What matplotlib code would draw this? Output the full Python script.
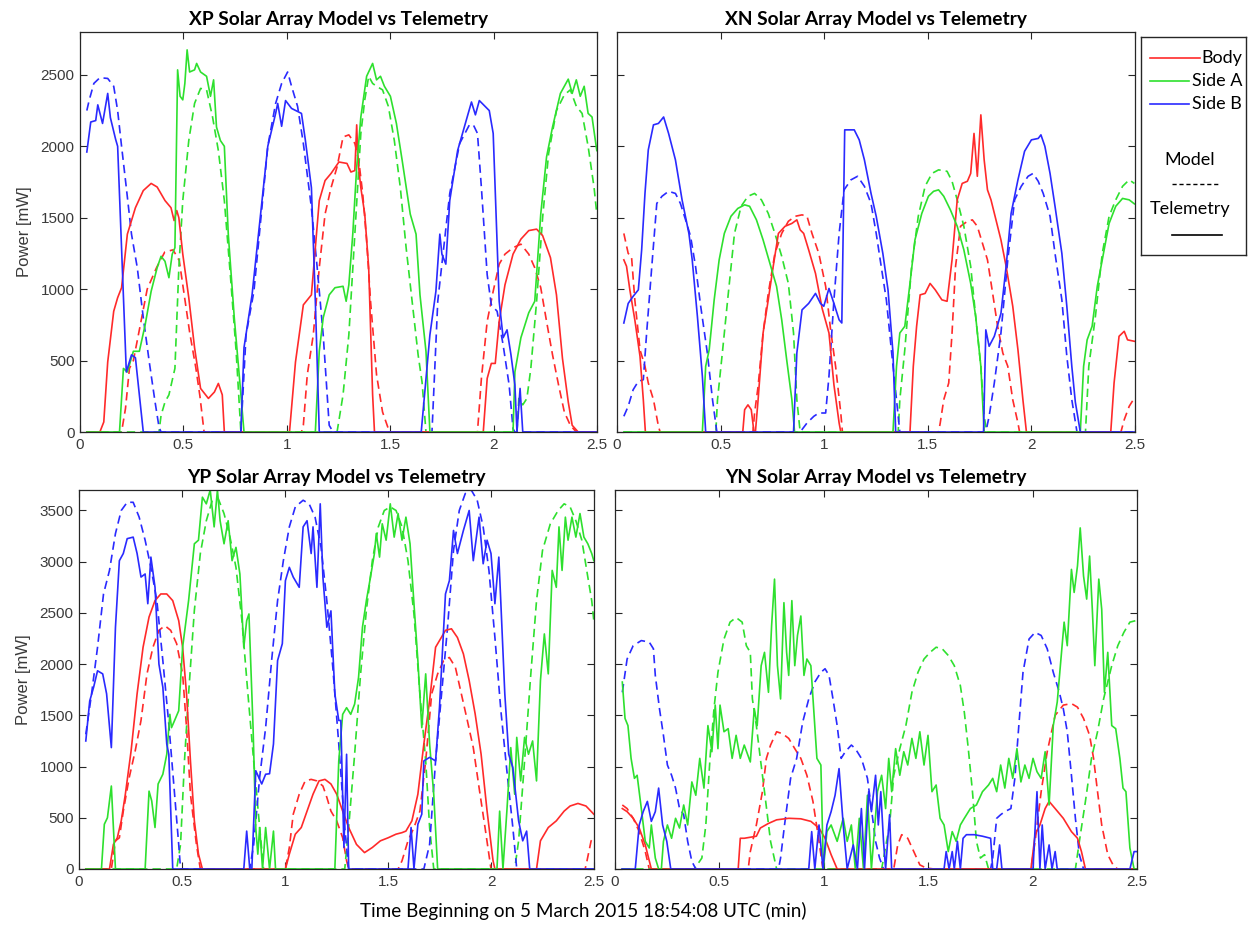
import matplotlib
matplotlib.use("Agg")
import matplotlib.pyplot as plt
from matplotlib.lines import Line2D

# ---------------- DATA (time in min, power in mW) ----------------
# XP panel
XP_BODY_TEL_T = [0.096,0.115,0.134,0.163,0.182,0.201,0.229,0.268,0.306,0.344,0.373,0.411,0.440,0.455,0.468,0.478,0.497,0.526,0.554,0.583,0.621,0.650,0.669,0.688,0.698,
                 1.013,1.042,1.080,1.119,1.157,1.185,1.214,1.252,1.291,1.310,1.329,1.338,1.344,1.358,1.377,1.396,1.415,1.424,
                 1.950,1.969,1.989,2.008,2.027,2.055,2.094,2.132,2.170,2.208,2.237,2.275,2.304,2.333,2.361,2.380,2.409]
XP_BODY_TEL_P = [0,70,490,845,940,1010,1385,1570,1690,1740,1715,1620,1570,1480,1550,1500,1245,940,590,305,235,280,340,260,0,
                 0,490,890,960,1620,1760,1810,1890,1880,1820,1830,2150,1900,1710,1525,1150,260,0,
                 0,375,480,480,775,1030,1245,1350,1410,1420,1375,1220,960,515,210,47,0]
XP_BODY_MOD_T = [0.201,0.220,0.239,0.258,0.285,0.325,0.370,0.410,0.450,0.480,0.500,0.530,0.560,0.580,0.600,
                 1.071,1.080,1.099,1.128,1.157,1.185,1.214,1.243,1.272,1.300,1.329,1.348,1.367,1.386,1.405,1.434,1.463,1.491,1.501,
                 1.922,1.941,1.969,1.998,2.027,2.055,2.094,2.132,2.170,2.199,2.228,2.256,2.285,2.314,2.342,2.371,2.400]
XP_BODY_MOD_P = [0,165,445,500,700,1000,1150,1260,1275,1200,1000,700,450,250,0,
                 0,47,400,680,1150,1525,1710,1855,2065,2080,2020,1900,1670,1340,915,400,140,23,0,
                 0,375,775,985,1175,1245,1290,1315,1245,1150,1010,775,540,330,140,47,0]
XP_SIDEA_TEL_T = [0.191,0.210,0.229,0.258,0.287,0.315,0.344,0.373,0.392,0.411,0.430,0.446,0.459,0.472,0.484,0.497,0.507,0.518,0.530,0.554,0.564,0.583,0.612,0.631,0.646,0.660,0.679,0.698,0.717,0.746,0.774,0.793,
                  1.138,1.157,1.176,1.205,1.233,1.272,1.287,1.300,1.319,1.338,1.358,1.386,1.415,1.434,1.453,1.472,1.501,1.530,1.558,1.597,1.625,1.644,1.673,1.692,
                  2.094,2.103,2.132,2.170,2.199,2.228,2.256,2.285,2.323,2.361,2.380,2.400,2.419,2.438,2.457,2.476,2.499]
XP_SIDEA_TEL_P = [0,445,420,565,565,750,985,1150,1230,1195,1080,1245,1290,2535,2350,2325,2440,2675,2520,2535,2580,2520,2490,2350,2465,2135,2040,2000,1385,800,330,0,
                  0,565,800,960,1010,1020,915,1030,1385,1855,2205,2490,2580,2465,2490,2420,2350,2160,1900,1525,1385,960,565,0,
                  0,420,660,835,915,1525,1925,2135,2370,2470,2370,2465,2350,2420,2230,2205,1970]
XP_SIDEA_MOD_T = [0.382,0.392,0.411,0.430,0.459,0.478,0.497,0.526,0.554,0.583,0.612,0.641,0.669,0.698,0.727,0.755,0.778,
                  1.243,1.272,1.300,1.329,1.358,1.377,1.396,1.415,1.434,1.463,1.491,1.520,1.549,1.577,1.606,1.635,1.654,1.673,
                  2.113,2.122,2.141,2.161,2.180,2.208,2.237,2.266,2.304,2.342,2.371,2.400,2.428,2.457,2.486,2.499]
XP_SIDEA_MOD_P = [0,117,210,260,445,1150,1620,2040,2300,2405,2395,2205,1970,1620,1100,565,0,
                  0,260,680,1385,2090,2325,2490,2440,2420,2395,2280,2040,1710,1290,915,540,350,0,
                  0,235,190,235,445,915,1500,1950,2250,2360,2395,2280,2230,2000,1710,1525]
XP_SIDEB_TEL_T = [0.033,0.052,0.076,0.086,0.109,0.134,0.147,0.172,0.182,0.224,0.249,0.268,0.306,
                  0.778,0.793,0.832,0.908,0.946,0.956,0.975,0.994,1.023,1.071,1.090,1.119,1.138,1.157,
                  1.650,1.692,1.721,1.740,1.750,1.769,1.788,1.826,1.893,1.912,1.931,1.979,1.998,2.027,2.046,2.065,2.084,2.103,2.113,2.128,2.141]
XP_SIDEB_TEL_P = [1960,2170,2180,2290,2160,2370,2200,2050,2000,420,540,520,0,
                  0,590,960,2000,2230,2300,2140,2320,2265,2230,2040,1710,915,0,
                  0,680,985,1385,1245,1175,1620,1970,2310,2220,2320,2250,2090,915,660,715,540,330,0,305,0]
XP_SIDEB_MOD_T = [0.033,0.044,0.067,0.096,0.134,0.163,0.182,0.201,0.224,0.249,0.277,0.306,0.335,0.363,0.382,0.392,
                  0.778,0.803,0.841,0.908,0.946,0.975,1.004,1.023,1.052,1.080,1.119,1.147,1.176,1.205,1.224,
                  1.702,1.730,1.788,1.836,1.883,1.902,1.922,1.941,1.969,1.989,2.017,2.046,2.075,2.094,2.103]
XP_SIDEB_MOD_P = [2250,2320,2440,2480,2475,2420,2250,2000,1710,1385,1150,800,490,210,35,0,
                  0,680,985,2000,2300,2440,2520,2420,2280,2020,1570,1150,680,47,0,
                  0,915,1670,2020,2150,2150,2090,1710,1100,890,845,610,330,23,0]

# XN panel
XN_BODY_TEL_T = [0.033,0.046,0.062,0.086,0.111,0.127,0.137,
                 0.607,0.616,0.632,0.648,0.661,0.668,0.681,0.705,0.730,0.754,0.779,0.811,0.844,0.868,0.884,0.901,0.925,0.958,0.990,1.023,1.047,1.072,1.080,
                 1.414,1.430,1.446,1.463,1.487,1.511,1.536,1.568,1.593,1.617,1.642,1.666,1.691,1.707,1.723,1.739,1.756,1.772,1.788,1.805,1.829,1.853,1.878,1.910,1.935,1.959,1.976,
                 2.383,2.399,2.423,2.448,2.464,2.497]
XN_BODY_TEL_P = [1205,1160,995,785,530,226,0,
                 0,156,190,156,0,0,226,693,925,1160,1390,1440,1460,1485,1415,1390,1275,1110,865,693,330,63,0,
                 0,460,740,960,970,1040,995,925,915,1205,1625,1740,1755,1810,2090,1790,2220,1905,1695,1625,1485,1345,1160,880,576,226,0,
                 0,343,670,705,645,635]
XN_BODY_MOD_T = [0.033,0.054,0.070,0.086,0.111,0.135,0.151,0.176,0.200,0.208,
                 0.656,0.664,0.681,0.705,0.730,0.762,0.795,0.827,0.860,0.893,0.917,0.941,0.974,1.007,1.031,1.055,1.080,1.088,
                 1.552,1.560,1.577,1.601,1.617,1.634,1.658,1.691,1.715,1.739,1.764,1.788,1.813,1.837,1.862,1.886,1.910,1.935,1.943,
                 2.432,2.448,2.472,2.497]
XN_BODY_MOD_P = [1390,1250,1230,925,576,460,343,226,40,0,
                 0,133,320,693,970,1250,1390,1475,1510,1520,1510,1390,1250,1020,715,460,133,0,
                 0,63,226,343,693,1160,1440,1475,1485,1440,1320,1205,970,740,553,460,226,63,0,
                 0,86,180,238]
XN_SIDEA_TEL_T = [0.412,0.428,0.445,0.469,0.493,0.518,0.550,0.583,0.616,0.640,0.673,0.705,0.738,0.770,0.795,0.819,0.844,0.857,
                  1.332,1.349,1.365,1.389,1.414,1.438,1.471,1.503,1.528,1.552,1.577,1.609,1.642,1.674,1.707,1.731,1.756,1.772,
                  2.236,2.252,2.269,2.293,2.318,2.342,2.375,2.407,2.440,2.472,2.497]
XN_SIDEA_TEL_P = [0,460,576,925,1205,1390,1510,1565,1590,1580,1485,1345,1180,1020,785,505,226,0,
                  0,460,693,740,1040,1345,1530,1650,1685,1695,1650,1555,1440,1275,1040,810,460,0,
                  0,460,645,740,1020,1205,1460,1580,1635,1625,1597]
XN_SIDEA_MOD_T = [0.477,0.485,0.510,0.534,0.567,0.599,0.632,0.664,0.697,0.730,0.762,0.795,0.827,0.852,0.868,0.884,
                  1.357,1.365,1.389,1.422,1.454,1.487,1.520,1.552,1.593,1.617,1.642,1.674,1.707,1.731,1.756,1.772,1.785,
                  2.261,2.277,2.309,2.342,2.375,2.407,2.440,2.472,2.497]
XN_SIDEA_MOD_P = [0,226,576,925,1390,1580,1650,1670,1625,1530,1390,1230,1040,693,226,0,
                  0,226,576,1160,1510,1720,1810,1835,1825,1755,1625,1440,1160,810,460,110,0,
                  0,460,810,1250,1510,1625,1720,1765,1740]
XN_SIDEB_TEL_T = [0.033,0.054,0.078,0.103,0.119,0.135,0.151,0.176,0.200,0.225,0.249,0.282,0.314,0.347,0.363,0.388,0.412,0.428,
                  0.852,0.868,0.893,0.925,0.958,0.982,0.998,1.023,1.047,1.072,1.085,1.099,1.145,1.169,1.194,1.226,1.251,1.283,1.308,1.332,1.345,
                  1.769,1.780,1.796,1.821,1.853,1.878,1.902,1.935,1.967,2.000,2.033,2.046,2.065,2.090,2.114,2.147,2.171,2.195,2.212,2.236]
XN_SIDEB_TEL_P = [763,900,950,995,1275,1670,1975,2150,2160,2205,2090,1905,1625,1390,1205,810,390,0,
                  0,553,855,900,970,900,880,1005,900,785,763,2115,2115,2045,1905,1670,1510,1250,995,553,0,
                  0,715,600,670,830,1160,1530,1765,1965,2045,2055,2080,2000,1810,1580,1250,880,460,210,0]
XN_SIDEB_MOD_T = [0.033,0.054,0.078,0.103,0.127,0.143,0.168,0.192,0.217,0.249,0.282,0.306,0.331,0.355,0.379,0.404,0.436,0.461,0.482,
                  0.884,0.917,0.950,0.974,1.007,1.023,1.047,1.072,1.096,1.129,1.161,1.194,1.226,1.251,1.275,1.300,1.324,1.349,1.365,
                  1.780,1.796,1.821,1.853,1.886,1.919,1.951,1.984,2.008,2.033,2.057,2.090,2.114,2.147,2.171,2.195,2.220]
XN_SIDEB_MOD_P = [110,180,296,355,366,693,1160,1600,1650,1685,1670,1600,1485,1370,1160,880,553,226,0,
                  0,63,110,133,133,390,925,1390,1695,1765,1790,1720,1600,1390,1160,925,576,226,0,
                  0,110,343,693,1205,1625,1720,1790,1810,1755,1670,1510,1250,925,530,226,0]

# YP panel
YP_BODY_TEL_T = [0.148,0.167,0.186,0.205,0.225,0.253,0.282,0.311,0.340,0.369,0.397,0.426,0.455,0.484,0.503,0.522,0.541,0.560,0.580,0.599,
                 1.002,1.021,1.050,1.079,1.107,1.136,1.165,1.194,1.223,1.251,1.280,1.309,1.347,1.386,1.424,1.463,1.501,1.539,1.568,1.587,1.616,1.645,1.674,1.702,1.731,1.750,1.779,1.808,1.837,1.866,1.894,1.923,1.952,1.981,2.010,2.019,
                 2.221,2.240,2.278,2.317,2.355,2.384,2.422,2.461,2.499]
YP_BODY_TEL_P = [0,240,305,470,730,1155,1710,2165,2460,2620,2685,2685,2620,2425,2165,1710,1055,470,145,0,
                 0,145,340,405,565,730,860,875,830,730,565,405,240,160,210,275,305,340,355,370,470,730,1220,1645,2165,2230,2330,2345,2260,2100,1840,1515,1120,565,80,0,
                 0,275,405,470,565,615,640,615,535]
YP_BODY_MOD_T = [0.157,0.177,0.196,0.215,0.244,0.273,0.301,0.330,0.359,0.388,0.417,0.445,0.474,0.503,0.522,0.541,0.570,0.589,
                 1.002,1.021,1.040,1.069,1.098,1.127,1.155,1.184,1.203,1.223,1.251,1.280,1.299,1.309,
                 1.549,1.568,1.597,1.626,1.655,1.683,1.712,1.741,1.770,1.798,1.827,1.856,1.885,1.914,1.942,1.971,2.000,
                 2.457,2.466,2.486,2.499]
YP_BODY_MOD_P = [0,275,305,565,895,1155,1450,1905,2165,2330,2375,2330,2200,1905,1380,730,240,0,
                 0,210,535,730,860,875,860,810,700,565,470,305,80,0,
                 0,80,275,405,565,1055,1710,1905,2035,2065,1970,1710,1450,1185,795,405,0,
                 0,80,275,305]
YP_SIDEA_TEL_T = [0.109,0.123,0.138,0.157,0.177,
                  0.321,0.340,0.353,0.369,0.384,0.407,0.426,0.441,0.449,0.464,0.484,0.503,0.532,0.560,0.580,0.599,0.618,0.637,0.656,0.672,0.685,0.704,0.724,0.743,0.762,0.781,0.800,0.814,0.825,0.845,0.858,0.868,0.877,0.891,0.906,0.925,0.944,0.954,
                  1.242,1.261,1.280,1.299,1.319,1.338,1.357,1.376,1.395,1.415,1.434,1.443,1.459,1.472,1.491,1.511,1.530,1.549,1.568,1.587,1.607,1.626,1.645,1.664,1.683,1.702,1.722,1.741,
                  2.029,2.042,2.058,2.077,2.096,2.115,2.125,2.144,2.163,2.182,2.202,2.221,2.240,2.259,2.278,2.297,2.317,2.330,2.345,2.361,2.374,2.393,2.412,2.432,2.451,2.470,2.489,2.499]
YP_SIDEA_TEL_P = [0,437,500,810,0,
                  0,760,665,405,830,925,1120,1510,1380,1450,1545,2165,2620,3175,3210,3630,3565,3700,3340,3700,3400,3175,3400,3010,3140,2880,2165,2425,2490,1380,405,145,405,0,405,0,370,0,
                  0,1055,1510,1575,1510,1610,1870,2360,2620,2850,3080,3275,3045,3370,3210,3565,3240,3470,3210,3435,3175,2590,2035,1380,1905,1220,730,0,
                  0,565,0,565,1185,730,1285,860,1285,1120,1250,860,1840,2295,1905,2915,2750,3340,2915,3435,3210,3435,3240,3470,3240,3175,3080,3010]
YP_SIDEA_MOD_T = [0.474,0.493,0.512,0.532,0.560,0.589,0.618,0.647,0.676,0.704,0.733,0.762,0.791,0.820,0.848,0.877,0.896,
                  1.290,1.309,1.338,1.367,1.395,1.424,1.453,1.482,1.511,1.539,1.568,1.597,1.626,1.655,1.683,1.702,1.722,
                  2.115,2.134,2.163,2.192,2.221,2.250,2.288,2.326,2.355,2.384,2.412,2.441,2.470,2.489,2.499]
YP_SIDEA_MOD_P = [0,240,1055,1710,2525,3080,3400,3600,3615,3470,3240,2945,2425,1710,1055,405,0,
                  0,405,1120,1905,2525,3010,3340,3500,3535,3500,3340,3010,2490,1710,1055,405,0,
                  0,275,1055,1870,2620,3110,3370,3500,3565,3535,3400,3210,2850,2620,2425]
YP_SIDEB_TEL_T = [0.033,0.052,0.071,0.090,0.115,0.134,0.157,0.177,0.196,0.215,0.234,0.263,0.282,0.301,0.321,0.334,0.349,0.369,0.388,0.407,0.426,0.436,0.455,
                  0.800,0.814,0.829,0.839,0.858,0.887,0.906,0.925,0.944,0.964,0.987,1.002,1.021,1.040,1.069,1.088,1.107,1.127,1.136,1.155,1.171,1.184,1.203,1.223,1.242,1.261,1.271,1.286,1.299,1.309,
                  1.597,1.612,1.626,1.645,1.664,1.674,1.702,1.731,1.750,1.779,1.798,1.818,1.837,1.866,1.894,1.914,1.942,1.962,1.981,2.000,2.019,2.038,2.048,2.067,2.086,2.106,2.134,2.154,2.173,2.188]
YP_SIDEB_TEL_P = [1250,1640,1775,1935,1905,1710,1185,2360,3010,3080,3225,3240,3080,2850,2880,2590,3045,2750,2000,1775,1220,1120,0,
                  0,370,0,0,960,830,925,930,1220,2035,2200,2815,2945,2850,2750,3340,3400,3080,3340,2750,3565,2850,2360,2520,1710,1450,1450,210,1120,0,
                  0,405,0,437,535,1055,1090,1055,1580,2685,2815,3305,3080,3305,3500,3010,3435,2980,3210,3080,2590,3045,2590,1710,1120,990,470,275,370,0]
YP_SIDEB_MOD_T = [0.033,0.061,0.090,0.119,0.148,0.177,0.205,0.234,0.263,0.292,0.321,0.349,0.378,0.407,0.436,0.464,0.484,0.493,
                  0.829,0.848,0.877,0.906,0.935,0.964,0.992,1.021,1.050,1.088,1.117,1.146,1.175,1.203,1.232,1.261,1.290,1.309,
                  1.674,1.702,1.731,1.760,1.789,1.818,1.846,1.875,1.904,1.933,1.962,1.990,2.019,2.048,2.077,2.106,2.125]
YP_SIDEB_MOD_P = [1315,1710,2165,2685,2915,3275,3500,3580,3580,3435,3210,2945,2620,2035,1415,730,240,0,
                  0,240,895,1380,2035,2620,3010,3340,3535,3600,3565,3435,3140,2620,1970,1220,405,0,
                  0,240,1055,1710,2360,3110,3500,3665,3700,3600,3340,2915,2260,1545,960,405,0]

# YN panel
YN_BODY_TEL_T = [0.035,0.058,0.087,0.116,0.145,0.174,
                 0.590,0.600,0.619,0.677,0.696,0.735,0.774,0.832,0.890,0.938,0.977,1.006,1.035,1.064,
                 1.992,2.012,2.035,2.060,2.079,2.108,2.147,2.186,2.215,2.234,2.253]
YN_BODY_TEL_P = [590,560,495,400,235,0,
                 0,300,300,320,400,445,480,495,490,465,400,300,140,0,
                 0,335,430,590,660,590,495,365,300,170,0]
YN_BODY_MOD_T = [0.035,0.058,0.087,0.116,0.145,0.164,
                 0.638,0.648,0.677,0.706,0.725,0.745,0.774,0.803,0.832,0.861,0.890,0.919,0.948,0.977,0.996,
                 1.335,1.354,1.373,1.402,1.431,1.460,1.490,1.528,
                 1.992,2.012,2.041,2.070,2.108,2.147,2.186,2.215,2.244,2.273,2.292,2.311,2.331,2.360,2.389,2.408]
YN_BODY_MOD_P = [625,590,495,365,170,0,
                 0,170,430,755,1080,1210,1340,1320,1275,1175,1080,915,660,270,0,
                 0,235,335,300,170,40,10,0,
                 0,270,755,1145,1500,1600,1615,1580,1470,1305,1080,755,430,140,25,0]
YN_SIDEA_TEL_T = [0.035,0.048,0.062,0.077,0.093,0.106,0.126,0.145,0.164,0.174,0.193,0.209,0.222,0.232,0.251,0.271,0.290,0.309,0.329,0.348,0.368,0.387,0.406,0.426,0.445,0.464,0.480,0.493,0.503,0.522,0.542,0.561,0.580,0.600,0.619,0.648,0.667,0.681,0.700,0.716,0.735,0.750,0.764,0.778,0.793,0.809,0.822,0.832,0.847,0.861,0.874,0.890,0.905,0.919,0.938,0.957,0.967,0.986,0.998,
                  1.015,1.035,1.064,1.093,1.112,1.132,1.151,1.170,1.190,1.209,1.228,1.257,1.277,1.296,1.311,1.325,1.344,1.364,1.383,1.402,1.422,1.441,1.460,1.480,1.499,1.518,1.538,1.557,1.576,1.596,1.615,1.634,1.654,1.673,1.702,1.731,1.760,1.789,1.809,1.828,1.847,1.867,1.886,1.905,1.925,1.944,1.963,1.983,
                  2.002,2.021,2.041,2.060,2.079,2.099,2.118,2.137,2.151,2.166,2.186,2.199,2.215,2.228,2.244,2.259,2.273,2.286,2.298,2.317,2.331,2.344,2.360,2.379,2.398,2.418,2.433,2.447,2.466,2.486]
YN_SIDEA_TEL_P = [1825,1470,1400,1080,885,915,590,270,205,430,107,0,0,270,430,300,495,400,625,430,850,720,1080,790,1400,1145,1600,1175,1600,1340,1370,1080,1305,1080,1210,1045,1565,1400,1985,2115,1725,2375,2830,1985,1660,2600,2115,1890,2620,1985,2280,2470,1890,2050,1985,1400,1080,1015,0,
                  365,430,270,495,270,430,0,495,0,720,0,755,915,590,1080,755,1175,915,1145,1015,1275,1080,1340,1015,1305,755,820,495,430,170,365,270,430,495,590,625,755,820,885,755,1015,790,1080,885,1175,850,1015,885,
                  1080,950,885,1145,625,1400,1630,2085,2410,2180,2925,2700,2960,3330,2860,2635,3055,2535,1985,2830,2535,1725,2115,1400,1370,1080,790,755,205,0]
YN_SIDEA_MOD_T = [0.380,0.416,0.435,0.455,0.474,0.493,0.522,0.551,0.580,0.609,0.629,0.648,0.658,0.677,0.696,0.716,0.745,0.774,
                  1.277,1.315,1.335,1.364,1.393,1.422,1.451,1.480,1.509,1.538,1.567,1.596,1.625,1.654,1.673,1.692,1.712,1.731,1.750,1.770,1.789,
                  2.205,2.224,2.253,2.282,2.311,2.340,2.379,2.408,2.437,2.466,2.495]
YN_SIDEA_MOD_P = [0,107,430,1080,1565,1920,2245,2410,2455,2410,2180,2115,1660,1400,1080,755,270,0,
                  0,430,915,1175,1400,1725,1920,2050,2115,2165,2150,2085,1985,1790,1530,1175,755,270,107,140,0,
                  0,270,660,1080,1340,1660,1985,2180,2310,2410,2425]
YN_SIDEB_TEL_T = [0.097,0.116,0.135,0.155,0.174,0.193,0.209,0.228,0.248,0.267,
                  0.928,0.942,0.957,0.977,0.996,1.015,1.035,1.054,1.073,1.093,1.112,1.141,1.161,1.180,1.195,1.215,1.228,1.248,1.261,1.273,1.286,1.296,1.315,1.325,
                  1.576,1.586,1.600,1.615,1.625,1.640,1.654,1.667,1.683,1.721,1.760,1.799,1.809,1.828,1.842,1.853,
                  2.002,2.021,2.035,2.046,2.060,2.079,2.093,2.108,2.118,
                  2.466,2.486,2.499]
YN_SIDEB_TEL_P = [0,430,560,660,465,560,790,430,270,0,
                  0,365,0,430,0,430,560,720,980,430,0,235,0,590,0,755,560,915,430,755,270,0,530,0,
                  0,170,0,170,0,270,0,300,335,335,320,300,0,0,235,0,
                  0,755,0,430,0,235,0,170,0,
                  0,170,170]
YN_SIDEB_MOD_T = [0.035,0.058,0.087,0.126,0.164,0.184,0.193,0.213,0.232,0.251,0.271,0.290,0.309,0.329,0.348,0.368,0.387,
                  0.783,0.793,0.812,0.841,0.870,0.899,0.928,0.957,0.986,1.006,1.025,1.044,1.064,1.083,1.103,1.132,1.151,1.180,1.209,1.228,1.248,1.267,1.286,
                  1.799,1.809,1.828,1.847,1.867,1.896,1.915,1.934,1.954,1.983,2.012,2.041,2.070,2.099,2.128,2.147,2.166,2.186,2.205,2.224,2.244]
YN_SIDEB_MOD_P = [1725,2050,2180,2230,2215,2150,1890,1565,1305,1015,915,790,590,530,270,75,0,
                  0,107,430,885,1080,1435,1660,1825,1920,1955,1890,1660,1400,1080,1145,1210,1175,1080,885,590,270,107,0,
                  0,107,495,530,560,590,885,1400,1920,2245,2310,2280,2150,1920,1725,1565,1340,915,495,140,0]

PANELS = [
    ("XP Solar Array Model vs Telemetry",
     [(XP_BODY_MOD_T, XP_BODY_MOD_P), (XP_BODY_TEL_T, XP_BODY_TEL_P)],
     [(XP_SIDEA_MOD_T, XP_SIDEA_MOD_P), (XP_SIDEA_TEL_T, XP_SIDEA_TEL_P)],
     [(XP_SIDEB_MOD_T, XP_SIDEB_MOD_P), (XP_SIDEB_TEL_T, XP_SIDEB_TEL_P)]),
    ("XN Solar Array Model vs Telemetry",
     [(XN_BODY_MOD_T, XN_BODY_MOD_P), (XN_BODY_TEL_T, XN_BODY_TEL_P)],
     [(XN_SIDEA_MOD_T, XN_SIDEA_MOD_P), (XN_SIDEA_TEL_T, XN_SIDEA_TEL_P)],
     [(XN_SIDEB_MOD_T, XN_SIDEB_MOD_P), (XN_SIDEB_TEL_T, XN_SIDEB_TEL_P)]),
    ("YP Solar Array Model vs Telemetry",
     [(YP_BODY_MOD_T, YP_BODY_MOD_P), (YP_BODY_TEL_T, YP_BODY_TEL_P)],
     [(YP_SIDEA_MOD_T, YP_SIDEA_MOD_P), (YP_SIDEA_TEL_T, YP_SIDEA_TEL_P)],
     [(YP_SIDEB_MOD_T, YP_SIDEB_MOD_P), (YP_SIDEB_TEL_T, YP_SIDEB_TEL_P)]),
    ("YN Solar Array Model vs Telemetry",
     [(YN_BODY_MOD_T, YN_BODY_MOD_P), (YN_BODY_TEL_T, YN_BODY_TEL_P)],
     [(YN_SIDEA_MOD_T, YN_SIDEA_MOD_P), (YN_SIDEA_TEL_T, YN_SIDEA_TEL_P)],
     [(YN_SIDEB_MOD_T, YN_SIDEB_MOD_P), (YN_SIDEB_TEL_T, YN_SIDEB_TEL_P)]),
]
SERIES_NAMES = ["Body", "Side A", "Side B"]
XTICKS = [0, 0.5, 1, 1.5, 2, 2.5]
XTICKLABELS = ["0", "0.5", "1", "1.5", "2", "2.5"]
YLIM_TOP = [2800, 2800, 3700, 3700]
YTICKS_TOP = [[0, 500, 1000, 1500, 2000, 2500]] * 2 + [[0, 500, 1000, 1500, 2000, 2500, 3000, 3500]] * 2
XLABEL = "Time Beginning on 5 March 2015 18:54:08 UTC (min)"
YLABEL = "Power [mW]"

# ---------------- STYLE ----------------
COLORS = ["#ff2a2a", "#2ee02e", "#2a2aff"]
T0, T1 = 0.033, 2.5
TITLE_FONT = ["Lato", "DejaVu Sans"]
TICK_FONT = ["Liberation Sans", "DejaVu Sans"]
TICK_COLOR = "#3a3a3a"

W, H = 1248, 925
fig = plt.figure(figsize=(W / 100, H / 100), dpi=100)

rects_px = [(80, 32, 597, 432), (617, 32, 1135, 432), (79, 490, 594, 869), (615, 490, 1137, 869)]


def pad(t, p):
    t = list(t); p = list(p)
    if t[0] > T0 + 0.005:
        t = [T0] + t; p = [0] + p
    if t[-1] < T1 - 0.005:
        t = t + [T1]; p = p + [0]
    return t, p


for i, (title, body, sidea, sideb) in enumerate(PANELS):
    l, t_, r, b = rects_px[i]
    ax = fig.add_axes([l / W, 1 - b / H, (r - l) / W, (b - t_) / H])
    for color, (mod, tel) in zip(COLORS, [body, sidea, sideb]):
        tm, pm = pad(*mod)
        ax.plot(tm, pm, color=color, lw=1.2, dashes=(5, 3))
    for color, (mod, tel) in zip(COLORS, [body, sidea, sideb]):
        tt, pt = pad(*tel)
        ax.plot(tt, pt, color=color, lw=1.2)
    ax.set_xlim(0, 2.5)
    ax.set_ylim(0, YLIM_TOP[i])
    ax.set_xticks(XTICKS)
    ax.set_xticklabels(XTICKLABELS)
    ax.set_yticks(YTICKS_TOP[i])
    ax.tick_params(direction="in", length=5, width=0.8, top=True, right=True,
                   colors="#262626", labelcolor=TICK_COLOR, labelsize=11, pad=4)
    for lab in ax.get_xticklabels() + ax.get_yticklabels():
        lab.set_family(TICK_FONT)
    if i % 2 == 1:
        ax.set_yticklabels([])
    else:
        ax.set_ylabel(YLABEL, fontsize=12, color=TICK_COLOR, family=TICK_FONT, labelpad=6)
    for s in ax.spines.values():
        s.set_color("#262626")
        s.set_linewidth(0.9)
    ax.set_title(title, fontsize=13.8, fontweight="bold", family=TITLE_FONT, pad=5)

fig.text(583 / W, 1 - 911 / H, XLABEL, ha="center", va="center", fontsize=13.6, family=TITLE_FONT)

# legend box
lx0, ly0, lx1, ly1 = 1141, 37, 1246, 255
lax = fig.add_axes([lx0 / W, 1 - ly1 / H, (lx1 - lx0) / W, (ly1 - ly0) / H])
lax.set_xlim(lx0, lx1)
lax.set_ylim(ly1, ly0)
lax.set_xticks([]); lax.set_yticks([])
for s in lax.spines.values():
    s.set_color("#262626"); s.set_linewidth(1.0)
for name, color, yy, x_end in zip(SERIES_NAMES, COLORS, [58, 81, 104], [1200, 1189, 1189]):
    lax.add_line(Line2D([1150, x_end], [yy, yy], color=color, lw=1.2))
    lax.text(1242, yy, name, ha="right", va="center", fontsize=13, family=TITLE_FONT)
lax.text(1190, 160, "Model", ha="center", va="center", fontsize=13, family=TITLE_FONT)
lax.add_line(Line2D([1172, 1220], [184, 184], color="black", lw=1.0, dashes=(3, 2)))
lax.text(1190, 209, "Telemetry", ha="center", va="center", fontsize=13, family=TITLE_FONT)
lax.add_line(Line2D([1172, 1222], [235, 235], color="black", lw=1.2))

fig.savefig("out.png", dpi=100)
